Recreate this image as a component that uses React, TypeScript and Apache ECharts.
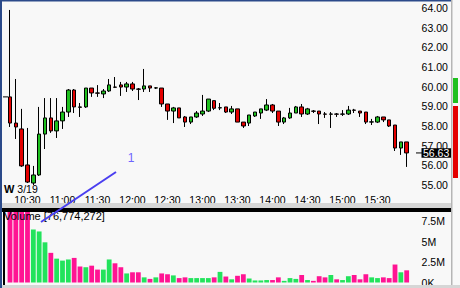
import React, { useEffect, useRef } from 'react';
import * as echarts from 'echarts';

const times = [
  '10:15','10:20','10:25','10:30','10:35','10:40','10:45','10:50','10:55',
  '11:00','11:05','11:10','11:15','11:20','11:25','11:30','11:35','11:40','11:45','11:50','11:55',
  '12:00','12:05','12:10','12:15','12:20','12:25','12:30','12:35','12:40','12:45','12:50','12:55',
  '13:00','13:05','13:10','13:15','13:20','13:25','13:30','13:35','13:40','13:45','13:50','13:55',
  '14:00','14:05','14:10','14:15','14:20','14:25','14:30','14:35','14:40','14:45','14:50','14:55',
  '15:00','15:05','15:10','15:15','15:20','15:25','15:30','15:35','15:40','15:45','15:50','15:55',
];

const opens = [59.48,58.15,57.85,56.02,55.10,55.51,57.59,58.41,57.75,58.26,58.71,59.83,58.97,58.97,59.93,59.68,59.63,59.78,59.98,60.09,59.98,60.14,59.88,59.88,60.04,59.93,59.93,59.12,58.76,58.92,58.46,58.20,58.46,58.61,58.76,59.29,58.92,58.97,58.71,58.87,58.20,58.15,58.51,58.66,58.81,59.07,58.76,58.20,58.41,58.66,58.97,58.61,58.76,58.76,58.61,58.60,58.61,58.60,58.61,58.81,58.76,58.71,58.20,58.20,58.46,58.31,58.05,56.88,57.19];
const closes = [58.15,57.95,55.97,55.15,55.51,57.59,58.41,57.75,58.26,58.71,59.83,58.97,58.95,59.93,59.68,59.67,59.78,60.09,59.97,59.98,60.14,59.88,59.87,60.04,59.93,59.94,59.12,58.76,58.92,58.41,58.20,58.46,58.66,58.76,59.37,58.90,58.93,58.71,58.87,58.20,58.00,58.56,58.71,58.87,59.07,58.76,58.20,58.41,58.66,58.97,58.61,58.87,58.75,58.61,58.60,58.61,58.60,58.61,58.81,58.80,58.66,58.20,58.21,58.46,58.31,58.00,56.88,57.19,56.63];
const lows = [57.95,57.34,55.92,55.10,55.00,55.46,56.83,57.65,57.39,57.85,58.46,58.66,58.46,58.92,59.48,59.48,59.42,59.73,59.93,59.53,59.73,59.78,59.32,59.73,59.73,59.88,58.97,58.31,58.15,58.41,57.95,58.10,58.41,58.51,58.71,58.81,58.81,58.66,58.61,58.20,57.90,58.00,58.46,58.36,58.76,58.66,58.00,58.10,58.36,58.66,58.46,58.56,58.66,58.10,58.41,57.90,58.46,58.51,58.56,58.66,58.46,58.10,58.05,58.15,58.20,57.95,56.73,56.53,55.92];
const highs = [63.90,60.39,58.87,57.90,55.97,58.97,59.42,59.42,59.42,58.97,59.88,59.88,59.17,59.93,59.93,60.08,59.88,60.39,60.49,60.24,60.24,60.24,59.93,60.90,60.04,59.98,59.93,59.12,58.97,58.92,58.51,58.46,58.76,59.58,59.37,59.29,59.17,58.97,59.02,58.87,58.20,58.56,58.71,58.87,59.37,59.12,58.76,58.46,58.92,59.02,59.12,58.92,58.81,58.76,58.71,58.71,58.66,58.81,59.02,58.87,58.76,58.71,58.36,58.51,58.46,58.31,58.05,57.19,57.19];
// volume in millions of shares
const volumes = [16.0,11.5,10.2,9.3,6.49,6.25,4.92,3.63,2.92,2.68,2.82,3.01,1.96,1.87,2.06,1.58,1.58,2.82,2.35,1.87,1.11,1.25,1.25,0.63,0.44,0.63,1.11,1.01,0.87,0.54,0.63,0.54,0.54,0.54,0.54,0.63,1.30,0.73,0.39,0.82,1.01,0.49,0.25,0.25,0.30,0.30,0.63,0.20,0.54,0.44,0.92,0.30,0.20,0.77,0.63,0.92,0.39,0.30,0.77,0.92,0.39,1.01,0.63,0.54,0.63,0.54,2.20,1.25,1.49];

const volumeTitle = 'Volume [76,774,272]';
const dateLabel = '3/19';
const annotationLabel = '1';

const FONT = "'Liberation Sans', Arial, sans-serif";
const UP = '#1fc01f';
const DOWN = '#e40000';
const VOL_UP = '#22e35c';
const VOL_DOWN = '#ff1493';

export default function App() {
  const ref = useRef<HTMLDivElement>(null);

  useEffect(() => {
    document.body.style.margin = '0';
    const chart = echarts.init(ref.current!, null, { renderer: 'svg' });
    const candleData = times.map((_, i) => [opens[i], closes[i], lows[i], highs[i]]);
    const volData = volumes.map((v, i) => ({
      value: v * 1e6,
      itemStyle: { color: closes[i] > opens[i] ? VOL_UP : VOL_DOWN },
    }));
    const left = 7.08;
    const right = 50.4;
    const labelStyle = { color: '#000', fontSize: 10.5, fontFamily: FONT };

    chart.setOption({
      animation: false,
      backgroundColor: '#f8f8f8',
      grid: [
        { left, right, top: 8, height: 177 },
        { left, right, top: 212, height: 72.5 },
      ],
      xAxis: [
        {
          type: 'category', data: times, gridIndex: 0, boundaryGap: true,
          axisLine: { show: false }, axisTick: { show: false }, splitLine: { show: false },
          axisLabel: {
            ...labelStyle, margin: 9, lineHeight: 11,
            interval: (_i: number, v: string) => v.endsWith(':00') || v.endsWith(':30'),
          },
        },
        { type: 'category', data: times, gridIndex: 1, boundaryGap: true, show: false },
      ],
      yAxis: [
        {
          type: 'value', gridIndex: 0, position: 'right', min: 55, max: 64, interval: 1,
          axisLine: { show: false }, axisTick: { show: false }, splitLine: { show: false },
          axisLabel: { ...labelStyle, margin: 12, formatter: (v: number) => v.toFixed(2) },
        },
        {
          type: 'value', gridIndex: 1, position: 'right', min: 0, max: 8.631e6, interval: 2.5e6,
          axisLine: { show: false }, axisTick: { show: false }, splitLine: { show: false },
          axisLabel: {
            ...labelStyle, margin: 12,
            formatter: (v: number) => {
              if (Math.abs(v % 2.5e6) > 1) return '';
              return v === 0 ? '0K' : `${v / 1e6}M`;
            },
          },
        },
      ],
      series: [
        {
          type: 'candlestick', data: candleData, xAxisIndex: 0, yAxisIndex: 0, barWidth: 4,
          itemStyle: { color: UP, color0: DOWN, borderColor: '#000', borderColor0: '#000', borderWidth: 1 },
        },
        { type: 'bar', data: volData, xAxisIndex: 1, yAxisIndex: 1, barWidth: 4.8, clip: true },
      ],
    });

    const lastClose = closes[closes.length - 1];
    const yLast = chart.convertToPixel({ yAxisIndex: 0 }, lastClose) as number;
    const yFirst = chart.convertToPixel({ yAxisIndex: 0 }, opens[0]) as number;
    const Z = 100;

    chart.setOption({
      graphic: [
        { type: 'rect', z: Z, shape: { x: 0, y: 0, width: 452, height: 1.5 }, style: { fill: '#2b4a8a' } },
        { type: 'rect', z: Z, shape: { x: 0, y: 0, width: 2, height: 288 }, style: { fill: '#2b4a8a' } },
        { type: 'rect', z: Z, shape: { x: 451, y: 0, width: 1.5, height: 288 }, style: { fill: '#b5b5b5' } },
        { type: 'rect', z: Z, shape: { x: 2, y: 203, width: 449, height: 5 }, style: { fill: '#d6d6d6' } },
        { type: 'rect', z: Z, shape: { x: 2, y: 208, width: 449, height: 4 }, style: { fill: '#000' } },
        { type: 'rect', z: Z, shape: { x: 2, y: 285, width: 458, height: 3 }, style: { fill: '#d6d6d6' } },
        { type: 'rect', z: Z, shape: { x: 3, y: 212, width: 2, height: 73 }, style: { fill: '#000' } },
        { type: 'rect', z: Z, shape: { x: 453, y: 78, width: 5, height: 25 }, style: { fill: UP } },
        { type: 'rect', z: Z, shape: { x: 453, y: 106, width: 5, height: 72 }, style: { fill: DOWN } },
        {
          type: 'text', z: Z, x: 4, y: 189,
          style: {
            text: `{b|W} ${dateLabel}`, fill: '#000', fontSize: 10.5, fontFamily: FONT, verticalAlign: 'middle',
            lineHeight: 10,
            rich: { b: { fontWeight: 'bold', fontSize: 11, fontFamily: FONT, fill: '#000', lineHeight: 10 } },
          },
        },
        {
          type: 'text', z: Z, x: 4, y: 216,
          style: { text: volumeTitle, fill: '#000', fontSize: 11, fontFamily: FONT, verticalAlign: 'middle' },
        },
        { type: 'line', z: Z, shape: { x1: 3, y1: yFirst, x2: 8, y2: yFirst }, style: { stroke: '#000', lineWidth: 1 } },
        { type: 'line', z: Z, shape: { x1: 416, y1: yLast, x2: 422, y2: yLast }, style: { stroke: '#000', lineWidth: 1 } },
        { type: 'rect', z: Z, shape: { x: 421.5, y: yLast - 4.7, width: 29.5, height: 9.5 }, style: { fill: '#000' } },
        {
          type: 'text', z: Z + 1, x: 423, y: yLast,
          style: { text: lastClose.toFixed(2), fill: '#fff', fontSize: 10.5, fontFamily: FONT, verticalAlign: 'middle' },
        },
        { type: 'line', z: Z, shape: { x1: 41, y1: 222, x2: 116, y2: 172 }, style: { stroke: '#4a3ef0', lineWidth: 2 } },
        {
          type: 'text', z: Z, x: 131, y: 157.5,
          style: { text: annotationLabel, fill: '#6e64ff', fontSize: 12, fontFamily: FONT, align: 'center', verticalAlign: 'middle' },
        },
      ],
    });

    return () => chart.dispose();
  }, []);

  return <div ref={ref} style={{ width: 460, height: 288 }} />;
}
